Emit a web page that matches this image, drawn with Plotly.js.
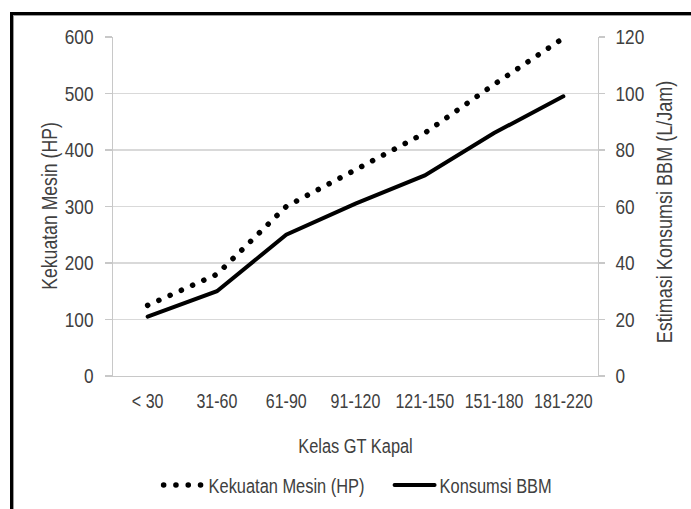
<!DOCTYPE html>
<html>
<head>
<meta charset="utf-8">
<script src="https://cdn.plot.ly/plotly-3.0.1.min.js"></script>
<style>
  html, body { margin: 0; padding: 0; background: #fff; }
  #wrap { position: relative; width: 691px; height: 509px; overflow: hidden; }
  #chart { position: absolute; left: 0; top: 0; width: 691px; height: 509px; }
  #frame { position: absolute; left: 10px; top: 12px; width: 760px; height: 560px;
           border-left: 3px solid #000; border-top: 3px solid #000;
           box-shadow: inset 1px 1px 0 #9a9a9a; pointer-events: none; }
  path.js-line { stroke-linecap: round; }
</style>
</head>
<body>
<div id="wrap">
  <div id="chart"></div>
  <div id="frame"></div>
</div>
<script>
const categories = ["< 30", "31-60", "61-90", "91-120", "121-150", "151-180", "181-220"];
const kekuatanMesinHP = [125, 180, 300, 366, 430, 516, 598];
const konsumsiBBM = [21, 30, 50, 61, 71, 86, 99];
const seriesNames = ["Kekuatan Mesin (HP)", "Konsumsi BBM"];
const xTitle = "Kelas GT Kapal";
const yLeftTitle = "Kekuatan Mesin (HP)";
const yRightTitle = "Estimasi Konsumsi BBM (L/Jam)";

const FONT = '"Liberation Sans", Arial, sans-serif';
const TXT = '#404040';
const NARROW = 0.82;     // emulate a condensed (Arial Narrow-like) face
const NARROW_X = 0.80;   // category labels sit close together

const traces = [
  {
    type: 'scatter', mode: 'lines', name: seriesNames[0],
    x: categories, y: kekuatanMesinHP, yaxis: 'y',
    line: { color: '#000', width: 5.5, dash: '0.1px,12.2px' },
    hoverinfo: 'skip'
  },
  {
    type: 'scatter', mode: 'lines', name: seriesNames[1],
    x: categories, y: konsumsiBBM, yaxis: 'y2',
    line: { color: '#000', width: 4 },
    hoverinfo: 'skip'
  }
];

const layout = {
  width: 691, height: 509,
  margin: { l: 113, r: 93, t: 37, b: 133, pad: 0, autoexpand: false },
  paper_bgcolor: 'rgba(0,0,0,0)',
  plot_bgcolor: 'rgba(0,0,0,0)',
  font: { family: FONT, size: 21, color: TXT },
  showlegend: true,
  legend: {
    orientation: 'h', x: 0.094, xanchor: 'left', y: -0.3215, yanchor: 'middle',
    itemwidth: 40, entrywidth: 176,
    font: { family: FONT, size: 20, color: TXT },
    bgcolor: 'rgba(0,0,0,0)'
  },
  xaxis: {
    type: 'category', range: [-0.5, 6.5],
    showgrid: false, zeroline: false,
    showline: true, linecolor: '#c8c8c8', linewidth: 1.3,
    ticks: '', ticklabelstandoff: 7, tickangle: 0, automargin: false,
    tickfont: { family: FONT, size: 20, color: TXT },
    title: { text: xTitle, font: { family: FONT, size: 20, color: TXT }, standoff: 27 }
  },
  yaxis: {
    range: [0, 600], dtick: 100, tick0: 0, automargin: false,
    showgrid: true, gridcolor: '#d9d9d9', gridwidth: 1.3,
    zeroline: false,
    showline: true, linecolor: '#c8c8c8', linewidth: 1.3,
    ticks: 'outside', ticklen: 7, tickcolor: '#c8c8c8', tickwidth: 1.3,
    ticklabelstandoff: 7,
    tickfont: { family: FONT, size: 21, color: TXT },
    title: { text: yLeftTitle, font: { family: FONT, size: 21.5, color: TXT }, standoff: 4 }
  },
  yaxis2: {
    overlaying: 'y', side: 'right', automargin: false,
    range: [0, 120], dtick: 20, tick0: 0,
    showgrid: false, zeroline: false,
    showline: true, linecolor: '#c8c8c8', linewidth: 1.3,
    ticks: 'outside', ticklen: 6, tickcolor: '#c8c8c8', tickwidth: 1.3,
    ticklabelstandoff: 6,
    tickfont: { family: FONT, size: 21, color: TXT },
    title: { text: yRightTitle, font: { family: FONT, size: 22, color: TXT }, standoff: 10 }
  }
};

function condense(gd) {
  gd.querySelectorAll('svg text').forEach(function (el) {
    const len = el.getComputedTextLength();
    if (len > 0) {
      const f = el.closest('.xtick') ? NARROW_X : NARROW;
      el.setAttribute('textLength', (len * f).toFixed(2));
      el.setAttribute('lengthAdjust', 'spacingAndGlyphs');
    }
  });
}

function centerAt(el, cx, cy) {
  if (!el) return;
  const r = el.getBoundingClientRect();
  const dx = cx - (r.left + r.width / 2);
  const dy = cy - (r.top + r.height / 2);
  const t = el.getAttribute('transform') || '';
  el.setAttribute('transform', 'translate(' + dx.toFixed(2) + ',' + dy.toFixed(2) + ') ' + t);
}

Plotly.newPlot('chart', traces, layout, { staticPlot: true, displayModeBar: false }).then(function (gd) {
  condense(gd);
  centerAt(gd.querySelector('.ytitle'), 50, 206);
  centerAt(gd.querySelector('.y2title'), 665, 212);
});
</script>
</body>
</html>
